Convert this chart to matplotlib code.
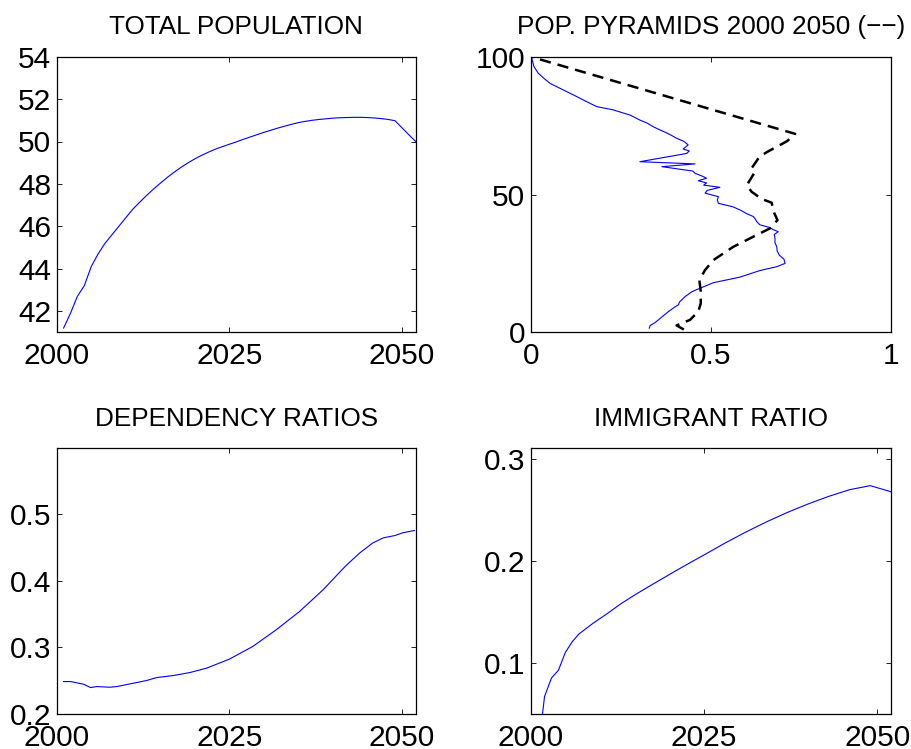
import matplotlib
matplotlib.use("Agg")
import matplotlib.pyplot as plt

plt.rcParams['font.family'] = ['Liberation Sans', 'DejaVu Sans']

# ---- TOTAL POPULATION ----
pop_years = list(range(2001, 2053))
pop_values = [41.2, 41.9, 42.7, 43.2, 44.1, 44.7, 45.2, 45.6, 46.0, 46.4,
              46.8, 47.13, 47.45, 47.75, 48.03, 48.3, 48.55, 48.78, 48.99, 49.18,
              49.35, 49.5, 49.64, 49.76, 49.87, 49.98, 50.1, 50.21, 50.32, 50.43,
              50.53, 50.63, 50.72, 50.81, 50.89, 50.95, 51.0, 51.04, 51.07, 51.1,
              51.12, 51.13, 51.14, 51.14, 51.13, 51.11, 51.08, 51.04, 50.98, 50.65,
              50.32, 50.0]

# ---- POP. PYRAMIDS ----
pyr2000_age = [1.5, 2.5, 3.5, 5, 6, 7.5, 9, 10, 11, 12.9, 14.7, 16, 18, 20, 22.4,
               23.8, 25, 26.5, 28, 29.5, 31, 32.5, 34, 35.5, 36.5, 37.3, 38, 39,
               40.2, 41, 42, 43, 44.2, 45.5, 46.8, 48, 49.2, 50.5, 51.5, 52.6, 53.4,
               54.2, 55, 55.9, 56.5, 57.7, 58.5, 60.1, 61.1, 61.9, 64.9, 65.8, 66.5,
               68, 69.3, 70.4, 71.5, 72.5, 73.4, 74.6, 76, 77, 78.8, 80.7, 81.9,
               83.7, 85.5, 87.9, 90.3, 92, 94, 96.4, 99.4, 100]
pyr2000_share = [0.329, 0.332, 0.345, 0.359, 0.368, 0.382, 0.398, 0.41, 0.413, 0.428,
                 0.447, 0.47, 0.507, 0.58, 0.636, 0.683, 0.706, 0.703, 0.69, 0.684,
                 0.683, 0.678, 0.678, 0.676, 0.687, 0.672, 0.664, 0.636, 0.627, 0.624,
                 0.618, 0.6, 0.584, 0.562, 0.521, 0.518, 0.521, 0.484, 0.49, 0.525,
                 0.48, 0.488, 0.465, 0.488, 0.479, 0.456, 0.45, 0.364, 0.456, 0.303,
                 0.433, 0.44, 0.423, 0.437, 0.425, 0.405, 0.39, 0.375, 0.359, 0.34,
                 0.322, 0.303, 0.276, 0.229, 0.183, 0.155, 0.128, 0.091, 0.054, 0.038,
                 0.021, 0.009, 0.003, 0.0]
pyr2050_age = [1, 2.5, 4.5, 7.5, 10.5, 14.8, 19, 22.6, 26.2, 31, 34.7, 37.7, 40.7,
               44.1, 47, 48.4, 51, 53.4, 57.7, 59.5, 63.7, 65.5, 67.6, 69.4, 72, 100]
pyr2050_share = [0.425, 0.405, 0.442, 0.465, 0.472, 0.472, 0.468, 0.484, 0.507, 0.562,
                 0.618, 0.664, 0.685, 0.673, 0.669, 0.641, 0.613, 0.6, 0.62, 0.613,
                 0.635, 0.657, 0.687, 0.712, 0.734, 0.0]

# ---- DEPENDENCY RATIOS ----
dep_years = [2001, 2002, 2003.9, 2004.9, 2005.8, 2007.7, 2008.7, 2011.1, 2013, 2014.5,
             2016.9, 2019.3, 2021.7, 2025, 2028.4, 2031.8, 2035.2, 2038.6, 2041.9,
             2043.9, 2045.8, 2047.3, 2049, 2050.1, 2051.8]
dep_values = [0.249, 0.249, 0.245, 0.240, 0.2415, 0.2405, 0.2415, 0.2465, 0.2505, 0.255,
              0.258, 0.2625, 0.269, 0.2825, 0.3015, 0.3265, 0.354, 0.3865, 0.4225,
              0.4415, 0.4565, 0.464, 0.4675, 0.4715, 0.475]

# ---- IMMIGRANT RATIO ----
imm_years = [2001, 2002, 2003, 2004, 2005, 2006, 2007, 2009, 2011, 2013, 2015, 2017,
             2019, 2021, 2023, 2025, 2028, 2031, 2034, 2037, 2040, 2043, 2046, 2049, 2052]
imm_values = [0.01, 0.0675, 0.0855, 0.093, 0.1105, 0.121, 0.1287, 0.139, 0.1482, 0.158,
              0.1666, 0.1747, 0.1826, 0.1905, 0.1982, 0.2057, 0.2172, 0.228, 0.238,
              0.2472, 0.2555, 0.263, 0.2695, 0.2735, 0.2675]

titles = ['TOTAL POPULATION', 'POP. PYRAMIDS 2000 2050 (\u2212\u2212)',
          'DEPENDENCY RATIOS', 'IMMIGRANT RATIO']
year_ticks = [2000, 2025, 2050]

W, H = 911, 749
fig = plt.figure(figsize=(W / 100, H / 100), dpi=100)

def box(l, t, r, b):
    return [l / W, 1 - b / H, (r - l) / W, (b - t) / H]

ax1 = fig.add_axes(box(56.7, 56.7, 415.7, 332.3))
ax2 = fig.add_axes(box(530.7, 56.7, 891, 332.3))
ax3 = fig.add_axes(box(56.7, 448.3, 415.7, 714.3))
ax4 = fig.add_axes(box(530.7, 448.3, 891, 714.3))

blue = '#0000ff'
lw_blue = 0.8

ax1.plot(pop_years, pop_values, color=blue, lw=lw_blue)
ax1.set_xlim(2000, 2052)
ax1.set_ylim(41, 54)
ax1.set_xticks(year_ticks)
ax1.set_yticks([42, 44, 46, 48, 50, 52, 54])

ax2.plot(pyr2000_share, pyr2000_age, color=blue, lw=lw_blue)
ax2.plot(pyr2050_share, pyr2050_age, color='black', lw=1.8, dashes=(4.5, 2.8))
ax2.set_xlim(0, 1)
ax2.set_ylim(0, 100)
ax2.set_xticks([0, 0.5, 1])
ax2.set_xticklabels(['0', '0.5', '1'])
ax2.set_yticks([0, 50, 100])

ax3.plot(dep_years, dep_values, color=blue, lw=lw_blue)
ax3.set_xlim(2000, 2052)
ax3.set_ylim(0.2, 0.598)
ax3.set_xticks(year_ticks)
ax3.set_yticks([0.2, 0.3, 0.4, 0.5])
ax3.set_yticklabels(['0.2', '0.3', '0.4', '0.5'])

ax4.plot(imm_years, imm_values, color=blue, lw=lw_blue)
ax4.set_xlim(2000, 2052)
ax4.set_ylim(0.05, 0.31)
ax4.set_xticks(year_ticks)
ax4.set_yticks([0.1, 0.2, 0.3])
ax4.set_yticklabels(['0.1', '0.2', '0.3'])

for ax, t in zip([ax1, ax2, ax3, ax4], titles):
    ax.set_title(t, fontsize=18.8, pad=16)
    for s in ax.spines.values():
        s.set_linewidth(0.9)
        s.set_color('black')
    ax.tick_params(direction='in', length=3.5, width=0.6, top=True, right=True,
                   labelsize=21.5)
    ax.tick_params(axis='x', pad=7)
    ax.tick_params(axis='y', pad=4)

fig.savefig('out.png', dpi=100, facecolor='white')
